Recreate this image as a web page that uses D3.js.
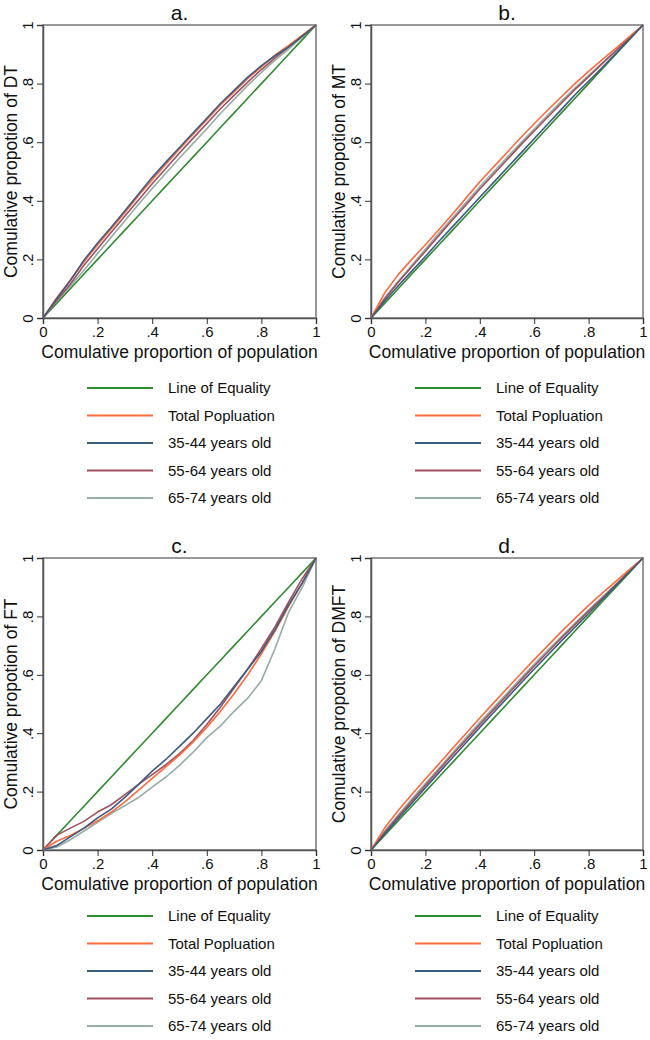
<!DOCTYPE html>
<html><head><meta charset="utf-8">
<script src="https://cdn.jsdelivr.net/npm/d3@7"></script>
<style>body{margin:0;background:#fff}svg{display:block}text{font-family:"Liberation Sans",Arial,sans-serif;fill:#111}</style>
</head><body><svg id="c" width="650" height="1040"></svg>
<script>
const xGrid = [0,.05,.1,.15,.2,.25,.3,.35,.4,.45,.5,.55,.6,.65,.7,.75,.8,.85,.9,.95,1];
const seriesNames = ["Line of Equality","Total Popluation","35-44 years old","55-64 years old","65-74 years old"];
const panelTitles = ["a.","b.","c.","d."];
const yTitles = ["Comulative propotion of DT","Comulative propotion of MT","Comulative propotion of FT","Comulative propotion of DMFT"];
const xTitle = "Comulative proportion of population";
const tickValues = [0,.2,.4,.6,.8,1];
const tickLabels = ["0",".2",".4",".6",".8","1"];

const equality = xGrid.slice();
const dtTotal = [0,.068,.13,.192,.25,.305,.36,.418,.472,.525,.577,.627,.677,.727,.772,.818,.857,.897,.93,.965,1];
const dt3544  = [0,.066,.127,.197,.256,.31,.366,.423,.48,.532,.582,.632,.682,.732,.777,.822,.861,.895,.925,.962,1];
const dt5564  = [0,.06,.115,.18,.236,.293,.348,.403,.458,.51,.563,.614,.664,.714,.76,.805,.848,.888,.925,.962,1];
const dt6574  = [0,.058,.108,.163,.22,.276,.332,.388,.442,.494,.546,.596,.646,.698,.746,.794,.838,.88,.918,.96,1];

const mtTotal = [0,.085,.148,.2,.25,.302,.355,.41,.465,.515,.565,.615,.663,.71,.755,.8,.842,.882,.92,.96,1];
const mt3544  = [0,.058,.11,.16,.21,.262,.312,.362,.412,.462,.512,.562,.612,.662,.712,.762,.808,.855,.903,.952,1];
const mt5564  = [0,.065,.122,.175,.228,.282,.335,.387,.44,.49,.54,.59,.638,.686,.733,.78,.823,.868,.912,.956,1];
const mt6574  = [0,.068,.125,.18,.235,.29,.342,.395,.448,.498,.548,.597,.645,.693,.74,.785,.828,.87,.913,.956,1];

const ftTotal = [0,.03,.05,.075,.1,.13,.165,.205,.245,.285,.325,.37,.42,.475,.535,.6,.672,.75,.835,.915,1];
const ft3544  = [0,.015,.045,.075,.11,.14,.18,.225,.27,.31,.355,.4,.45,.5,.56,.62,.68,.755,.84,.915,1];
const ft5564  = [0,.05,.075,.098,.13,.155,.19,.225,.258,.292,.33,.375,.43,.49,.555,.62,.69,.765,.85,.93,1];
const ft6574  = [0,.01,.035,.065,.095,.125,.152,.18,.215,.25,.29,.335,.385,.425,.475,.52,.58,.69,.815,.9,1];

const dmftTotal = [0,.075,.135,.19,.243,.295,.348,.4,.452,.503,.553,.603,.652,.7,.748,.793,.838,.88,.92,.96,1];
const dmft3544  = [0,.055,.108,.16,.213,.265,.317,.368,.42,.47,.52,.57,.62,.668,.716,.763,.81,.857,.905,.953,1];
const dmft5564  = [0,.06,.115,.168,.222,.275,.327,.378,.43,.48,.53,.58,.63,.678,.726,.772,.818,.862,.908,.955,1];
const dmft6574  = [0,.064,.12,.175,.228,.28,.333,.385,.437,.487,.537,.587,.636,.684,.731,.777,.822,.866,.91,.955,1];

const colors = ["#2e8b2e","#ff6a3d","#3d5a80","#a05060","#94ada5"];

const panels = [
  {series:[equality,dtTotal,dt3544,dt5564,dt6574], left:43, right:316, top:25, bottom:318, legTop:388},
  {series:[equality,mtTotal,mt3544,mt5564,mt6574], left:371, right:643, top:25, bottom:318, legTop:388},
  {series:[equality,ftTotal,ft3544,ft5564,ft6574], left:43, right:316, top:558, bottom:850, legTop:916},
  {series:[equality,dmftTotal,dmft3544,dmft5564,dmft6574], left:371, right:643, top:558, bottom:850, legTop:916}
];
const drawOrder = [0,4,3,1,2];

const svg = d3.select("#c");
panels.forEach((p,i)=>{
  const x = d3.scaleLinear().domain([0,1]).range([p.left,p.right]);
  const y = d3.scaleLinear().domain([0,1]).range([p.bottom,p.top]);
  const g = svg.append("g");
  g.append("text").attr("x",(p.left+p.right)/2).attr("y",p.top-5).attr("text-anchor","middle")
    .style("font-size","21px").text(panelTitles[i]);
  g.append("rect").attr("x",p.left).attr("y",p.top).attr("width",p.right-p.left).attr("height",p.bottom-p.top)
    .attr("fill","none").attr("stroke","#777").attr("stroke-width",1.5);
  const xa = g.append("g").attr("transform",`translate(0,${p.bottom})`)
    .call(d3.axisBottom(x).tickValues(tickValues).tickFormat((d,k)=>tickLabels[k]).tickSize(6).tickPadding(2));
  const ya = g.append("g").attr("transform",`translate(${p.left},0)`)
    .call(d3.axisLeft(y).tickValues(tickValues).tickFormat((d,k)=>tickLabels[k]).tickSize(6).tickPadding(5));
  [xa,ya].forEach(a=>{
    a.select(".domain").attr("stroke","#555").attr("stroke-width",1.5);
    a.selectAll(".tick line").attr("stroke","#333").attr("stroke-width",1);
    a.selectAll(".tick text").style("font-size","15px").attr("fill","#111").style("font-family",'"Liberation Sans",Arial,sans-serif');
  });
  ya.selectAll(".tick text").attr("transform","rotate(-90)")
    .attr("x",0).attr("dy",0).attr("y",-10).attr("text-anchor","middle");
  g.append("text").attr("x",(p.left+p.right)/2).attr("y",p.bottom+40).attr("text-anchor","middle")
    .style("font-size","17.5px").text(xTitle);
  g.append("text").attr("transform",`translate(${p.left-26},${(p.top+p.bottom)/2}) rotate(-90)`)
    .attr("text-anchor","middle").style("font-size","17.5px").text(yTitles[i]);
  const line = d3.line().x((d,k)=>x(xGrid[k])).y(d=>y(d));
  drawOrder.forEach(s=>{
    g.append("path").datum(p.series[s]).attr("d",line).attr("fill","none")
      .attr("stroke",colors[s]).attr("stroke-width",1.6).attr("stroke-linejoin","round");
  });
  seriesNames.forEach((n,k)=>{
    const ly = p.legTop + k*27.5;
    g.append("line").attr("x1",p.left+44).attr("x2",p.left+110).attr("y1",ly).attr("y2",ly)
      .attr("stroke",colors[k]).attr("stroke-width",2);
    g.append("text").attr("x",p.left+125).attr("y",ly+5).style("font-size","15px").text(n);
  });
});
</script></body></html>
